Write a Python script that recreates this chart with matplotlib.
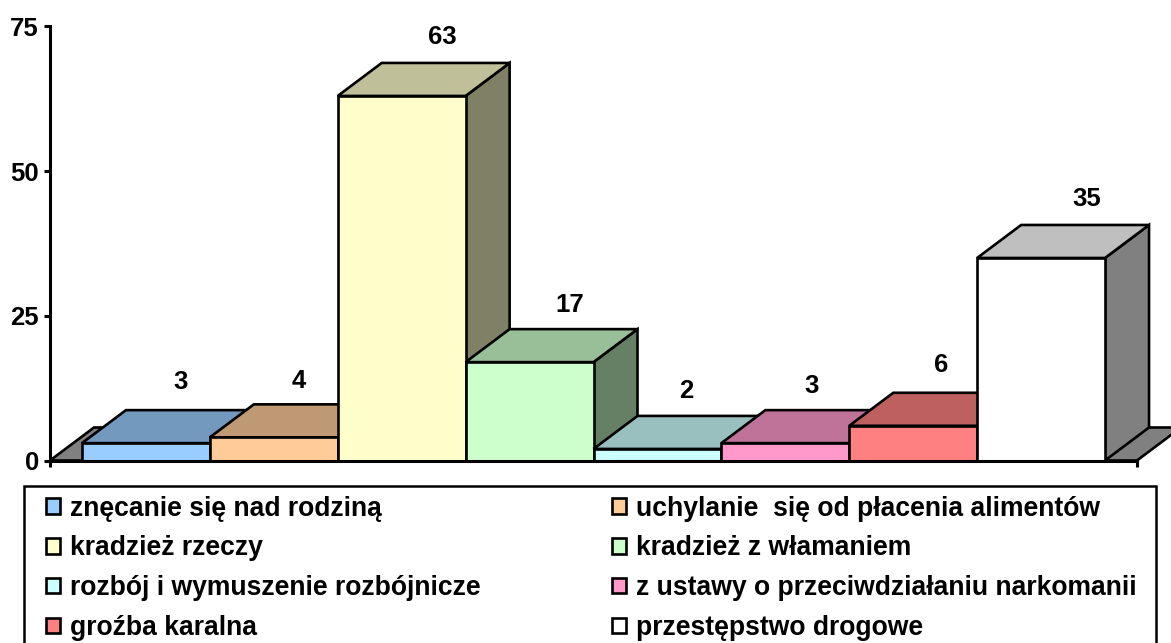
import matplotlib
matplotlib.use("Agg")
import matplotlib.pyplot as plt
from matplotlib.patches import Patch, Polygon, Rectangle
import numpy as np

categories = ["znęcanie się nad rodziną", "uchylanie  się od płacenia alimentów",
              "kradzież rzeczy", "kradzież z włamaniem",
              "rozbój i wymuszenie rozbójnicze", "z ustawy o przeciwdziałaniu narkomanii",
              "groźba karalna", "przestępstwo drogowe"]
values = [3, 4, 63, 17, 2, 3, 6, 35]
colors = ["#99CCFF", "#FFCC99", "#FFFFCC", "#CCFFCC", "#CCFFFF", "#FF99CC", "#FF8080", "#FFFFFF"]
yticks = [0, 25, 50, 75]
# label offsets from the back top-centre of each bar, in pixels
label_dx = [-9, -19, -3, -4, -15, -18, -16, 2]
label_dy = [28, 23, 26, 24, 25, 24, 28, 26]

W, H = 1171, 643
plt.rcParams["font.family"] = ["Liberation Sans", "DejaVu Sans"]
plt.rcParams["font.weight"] = "bold"
fig = plt.figure(figsize=(W / 100, H / 100), dpi=100, facecolor="white")
L, R, T, B = 50.0, 1137.0, 26.5, 460.5
ax = fig.add_axes([L / W, 1 - B / H, (R - L) / W, (B - T) / H])
ax.set_xlim(-0.25, 8.25)
ax.set_ylim(0, 75)
for s in ("top", "right"):
    ax.spines[s].set_visible(False)
for s in ("left", "bottom"):
    ax.spines[s].set_linewidth(2.2)
    ax.spines[s].set_zorder(50)
ax.set_yticks(yticks)
ax.set_xticks([-0.25, 8.25])
ax.set_xticklabels([])
ax.tick_params(axis="both", length=4.5, width=2.2, pad=3.5, labelsize=18.5)
ax.patch.set_alpha(0)

dx = 44 / ((R - L) / 8.5)
dy = 33 / ((B - T) / 75)
edge = dict(edgecolor="black", linewidth=1.9, joinstyle="miter", clip_on=False)


def shade(c, f):
    return tuple(v * f for v in matplotlib.colors.to_rgb(c))


# floor
ax.add_patch(Polygon([(-0.25, 0), (-0.25 + dx, dy), (8.25 + dx, dy), (8.25, 0)],
                     facecolor="#808080", zorder=1, **edge))

for i, (v, c) in enumerate(zip(values, colors)):
    z = 2 + i
    ax.add_patch(Polygon([(i + 1, 0), (i + 1 + dx, dy), (i + 1 + dx, v + dy), (i + 1, v)],
                         facecolor=shade(c, 0.5), zorder=z, **edge))
    ax.add_patch(Polygon([(i, v), (i + dx, v + dy), (i + 1 + dx, v + dy), (i + 1, v)],
                         facecolor=shade(c, 0.75), zorder=z, **edge))
    ax.bar(i + 0.5, v, width=1, color=c, zorder=z, **edge)
    ax.annotate(str(v), xy=(i + 0.5 + dx, v + dy),
                xytext=(label_dx[i] * 0.72, label_dy[i] * 0.72), textcoords="offset points",
                ha="center", va="center", fontsize=18.5, fontweight="bold", zorder=40,
                annotation_clip=False)

# legend frame
fig.add_artist(Rectangle((24 / W, 1 - 690 / H), (1156 - 24) / W, (690 - 486) / H,
                         transform=fig.transFigure, facecolor="white",
                         edgecolor="black", linewidth=1.8))
handles = [Patch(facecolor=c, edgecolor="black", linewidth=1.9) for c in colors]
order = [0, 2, 4, 6, 1, 3, 5, 7]
fs = 19.1
px = fs * 100 / 72
leg = fig.legend([handles[i] for i in order], [categories[i] for i in order],
                 ncol=2, loc="upper left", bbox_to_anchor=(46 / W, 1 - 495.5 / H),
                 frameon=False, prop=dict(size=fs, weight="bold"),
                 borderpad=0, borderaxespad=0, handlelength=14 / px, handleheight=14 / px,
                 handletextpad=10 / px, columnspacing=131.5 / px, labelspacing=0.52)
fig.savefig("out.png", dpi=100)
